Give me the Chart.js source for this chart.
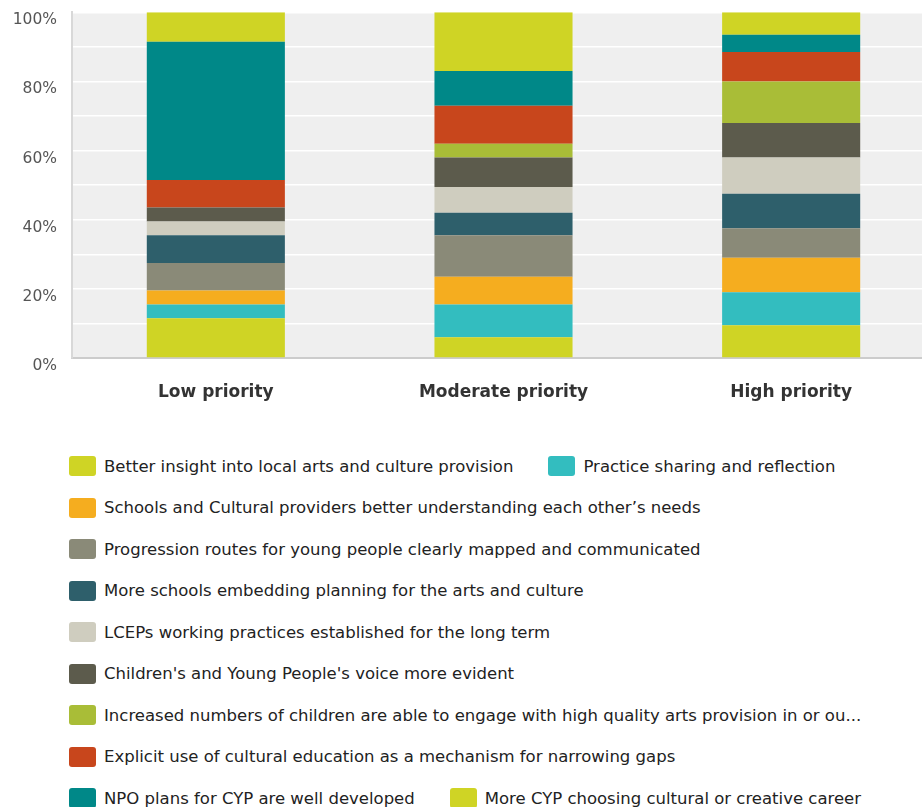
<!DOCTYPE html>
<html>
<head>
<meta charset="utf-8">
<script src="https://cdn.jsdelivr.net/npm/chart.js@4.4.1/dist/chart.umd.min.js"></script>
<style>
    html, body { margin: 0; padding: 0; background: #fff; }
    #wrap { width: 922px; height: 807px; position: relative; overflow: hidden; }
    #chartBox { width: 935px; height: 432px; margin-top: -12px; position: relative; }
    #legend {
        list-style: none; margin: 0; padding: 36px 0 0 69px;
        display: flex; flex-wrap: wrap; gap: 21.5px 35px; width: 840px;
        font-family: "DejaVu Sans", sans-serif; font-size: 16.5px; color: #222;
    }
    #legend li { display: flex; align-items: center; height: 20px; white-space: nowrap; }
    #legend .box { width: 27px; height: 20px; border-radius: 3px; margin-right: 8px; }
</style>
</head>
<body>
<div id="wrap">
    <div id="chartBox"><canvas id="priorityChart"></canvas></div>
    <ul id="legend"></ul>
</div>
<script>
// categories
const categories = ['Low priority', 'Moderate priority', 'High priority'];

// series names (bottom of stack first)
const seriesNames = [
    'Better insight into local arts and culture provision',
    'Practice sharing and reflection',
    'Schools and Cultural providers better understanding each other\u2019s needs',
    'Progression routes for young people clearly mapped and communicated',
    'More schools embedding planning for the arts and culture',
    'LCEPs working practices established for the long term',
    "Children's and Young People's voice more evident",
    'Increased numbers of children are able to engage with high quality arts provision in or ou...',
    'Explicit use of cultural education as a mechanism for narrowing gaps',
    'NPO plans for CYP are well developed',
    'More CYP choosing cultural or creative career'
];

const seriesColors = [
    '#cfd425', '#33bdbf', '#f5ad1f', '#8a8a78', '#2e5f6b',
    '#cfcdbf', '#5c5b4c', '#a9bd37', '#c8461c', '#008888', '#cfd425'
];

// percentage values per series: [low, moderate, high]
const betterInsight     = [11.5, 6, 9.5];
const practiceSharing   = [4, 9.5, 9.5];
const schoolsProviders  = [4, 8, 10];
const progressionRoutes = [8, 12, 8.5];
const moreSchools       = [8, 6.5, 10];
const lcepPractices     = [4, 7.5, 10.5];
const cypVoice          = [4, 8.5, 10];
const increasedNumbers  = [0, 4, 12];
const explicitUse       = [8, 11, 8.5];
const npoPlans          = [40, 10, 5];
const moreCypCareers    = [8.5, 17, 6.5];

const seriesValues = [
    betterInsight, practiceSharing, schoolsProviders, progressionRoutes, moreSchools,
    lcepPractices, cypVoice, increasedNumbers, explicitUse, npoPlans, moreCypCareers
];

const yTicks = [0, 20, 40, 60, 80, 100];

const datasets = seriesNames.map(function (name, i) {
    return {
        label: name,
        data: seriesValues[i],
        backgroundColor: seriesColors[i],
        borderWidth: 0,
        categoryPercentage: 1,
        barPercentage: 0.48
    };
});

// light grey plot background
const plotBackground = {
    id: 'plotBackground',
    beforeDraw: function (chart) {
        const a = chart.chartArea;
        const ctx = chart.ctx;
        ctx.save();
        ctx.fillStyle = '#efefef';
        ctx.fillRect(a.left, a.top, a.right - a.left, a.bottom - a.top);
        ctx.restore();
    }
};

new Chart(document.getElementById('priorityChart'), {
    type: 'bar',
    data: { labels: categories, datasets: datasets },
    plugins: [plotBackground],
    options: {
        responsive: true,
        maintainAspectRatio: false,
        animation: false,
        layout: { padding: { top: 0, left: 8, right: 0, bottom: 0 } },
        plugins: {
            legend: { display: false },
            tooltip: { enabled: false }
        },
        scales: {
            x: {
                stacked: true,
                grid: { display: false, drawTicks: false },
                border: { color: '#cccccc', width: 2 },
                ticks: {
                    padding: 24,
                    color: '#333',
                    font: { family: 'DejaVu Sans', size: 17, weight: 'bold' }
                },
                afterFit: function (s) { s.height = 62; }
            },
            y: {
                stacked: true,
                min: 0,
                max: 100,
                grid: { color: '#ffffff', lineWidth: 1.5, drawTicks: false },
                border: { color: '#d8d8d8', width: 2 },
                ticks: {
                    stepSize: 10,
                    padding: 15,
                    labelOffset: 8,
                    color: '#555',
                    font: { family: 'DejaVu Sans', size: 15.5 },
                    callback: function (v) { return yTicks.indexOf(v) >= 0 ? v + '%' : ''; }
                },
                afterFit: function (s) { s.width = 64; }
            }
        }
    }
});

// html legend built from the series
const legendEl = document.getElementById('legend');
seriesNames.forEach(function (name, i) {
    const li = document.createElement('li');
    const box = document.createElement('span');
    box.className = 'box';
    box.style.background = seriesColors[i];
    const txt = document.createElement('span');
    txt.textContent = name;
    li.appendChild(box);
    li.appendChild(txt);
    legendEl.appendChild(li);
});
</script>
</body>
</html>
